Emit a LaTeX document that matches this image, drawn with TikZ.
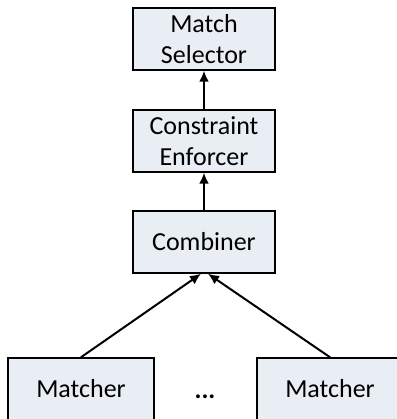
\documentclass[tikz,border=0pt]{standalone}
\usepackage{fontspec}
\setmainfont{Carlito}
\usetikzlibrary{positioning,arrows.meta}
\definecolor{boxfill}{HTML}{E9EDF4}

\begin{document}
\begin{tikzpicture}[x=1pt,y=-1pt,
    block/.style={draw,fill=boxfill,line width=1.5pt,minimum width=142pt,minimum height=62pt,inner sep=1pt,align=center,font=\fontsize{26}{31}\selectfont},
    link/.style={line width=2pt,-{Latex[length=11pt,width=10pt]}}]
    \useasboundingbox (0,0) rectangle (396,419);
    \node[block] (selector) at (204,39) {Match\\Selector};
    \node[block] (enforcer) at (204,141) {Constraint\\Enforcer};
    \node[block] (combiner) at (204,242) {Combiner};
    \node[block,minimum width=146pt] (matcher1) at (81,389) {Matcher};
    \node[block,minimum width=146pt] (matcher2) at (330,389) {Matcher};
    \node[font=\fontsize{26}{31}\selectfont\bfseries] (dots) at (205,397) {...};
    \draw[link] (enforcer) -- (selector);
    \draw[link] (combiner) -- (enforcer);
    \draw[link] (matcher1.north) -- ([xshift=-3pt]combiner.south);
    \draw[link] (matcher2.north) -- ([xshift=4pt]combiner.south);
\end{tikzpicture}
\end{document}
